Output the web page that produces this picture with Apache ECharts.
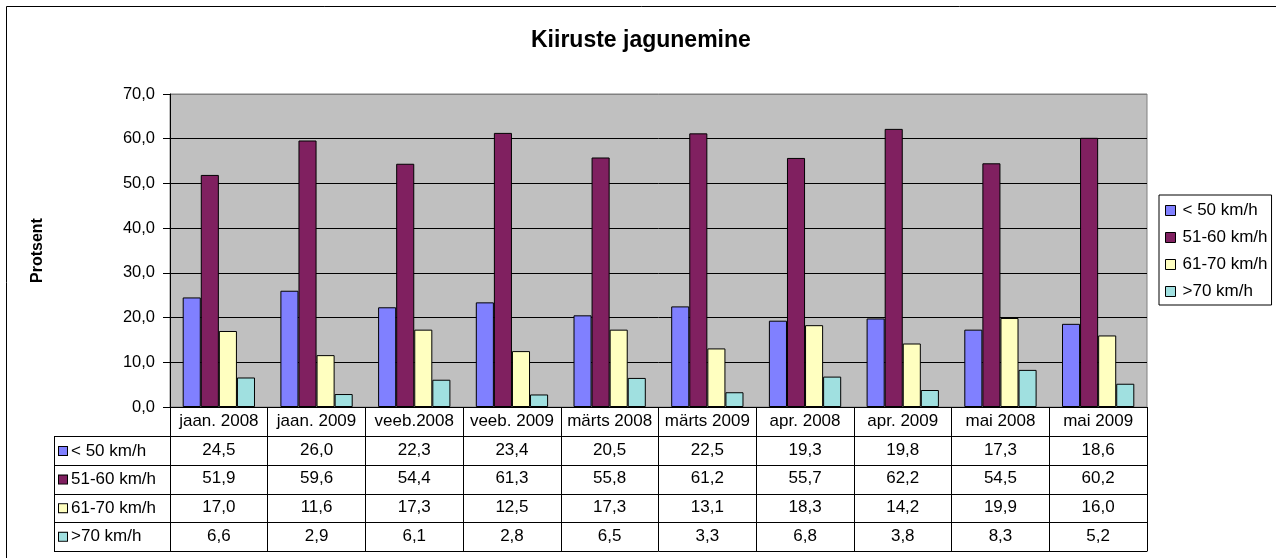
<!DOCTYPE html>
<html>
<head>
<meta charset="utf-8">
<script src="https://cdn.jsdelivr.net/npm/echarts@6/dist/echarts.min.js"></script>
<style>html,body{margin:0;padding:0;background:#fff}#c{width:1276px;height:558px}</style>
</head>
<body>
<div id="c"></div>
<script>
const categories = ['jaan. 2008','jaan. 2009','veeb.2008','veeb. 2009','märts 2008','märts 2009','apr. 2008','apr. 2009','mai 2008','mai 2009'];
const seriesNames = ['< 50 km/h','51-60 km/h','61-70 km/h','>70 km/h'];
const below50 = [24.5,26.0,22.3,23.4,20.5,22.5,19.3,19.8,17.3,18.6];
const from51to60 = [51.9,59.6,54.4,61.3,55.8,61.2,55.7,62.2,54.5,60.2];
const from61to70 = [17.0,11.6,17.3,12.5,17.3,13.1,18.3,14.2,19.9,16.0];
const above70 = [6.6,2.9,6.1,2.8,6.5,3.3,6.8,3.8,8.3,5.2];
const yTicks = [0,10,20,30,40,50,60,70];

const seriesData = [below50, from51to60, from61to70, above70];
const colors = ['#8080FF','#802060','#FFFFC0','#A0E0E0'];
const FONT = "'Liberation Sans', Arial, sans-serif";
const FS = 17;
const fmt = v => v.toFixed(1).replace('.', ',');

const plotLeft = 170, plotTop = 94, plotW = 977, plotH = 313;
const headerH = 29.7, rowH = 28.6;

const xAxes = [{
  type: 'category', gridIndex: 0, data: categories, position: 'bottom',
  axisLine: {show: true, lineStyle: {color: '#000', width: 1}},
  axisTick: {show: true, interval: 0, length: headerH + 4 * rowH, lineStyle: {color: '#000'}},
  axisLabel: {interval: 0, margin: 6, color: '#000', fontFamily: FONT, fontSize: FS}
}];
for (let i = 0; i < 4; i++) {
  xAxes.push({
    type: 'category', gridIndex: 0, data: categories, position: 'bottom',
    offset: headerH + i * rowH,
    axisLine: {show: true, lineStyle: {color: '#000', width: 1}},
    axisTick: {show: false},
    axisLabel: {interval: 0, margin: 5, color: '#000', fontFamily: FONT, fontSize: FS,
      formatter: (v, idx) => fmt(seriesData[i][idx])}
  });
}
xAxes.push({
  type: 'category', gridIndex: 0, data: categories, position: 'bottom',
  offset: headerH + 4 * rowH,
  axisLine: {show: true, lineStyle: {color: '#000', width: 1}},
  axisTick: {show: false}, axisLabel: {show: false}
});
xAxes.push({type: 'value', gridIndex: 1, min: 0, max: 1, show: false});

const rich = {};
colors.forEach((c, i) => {
  rich['s' + i] = {width: 8, height: 8, backgroundColor: c, borderColor: '#000', borderWidth: 1};
});
rich.t = {fontFamily: FONT, fontSize: FS, color: '#000', padding: [0, 0, 0, 4]};

const option = {
  animation: false,
  backgroundColor: '#fff',
  title: {
    text: 'Kiiruste jagunemine', left: 531, top: 29,
    padding: 0,
    textStyle: {fontFamily: FONT, fontSize: 23, fontWeight: 'bold', color: '#000'}
  },
  legend: {
    orient: 'vertical', left: 1159, top: 195,
    itemWidth: 10, itemHeight: 10, itemGap: 10,
    padding: [7, 4, 5, 6],
    borderColor: '#000', borderWidth: 1, backgroundColor: '#fff',
    icon: 'rect',
    itemStyle: {borderColor: '#000', borderWidth: 1},
    textStyle: {fontFamily: FONT, fontSize: FS, color: '#000', padding: [0, 0, 0, 2]},
    data: seriesNames
  },
  grid: [
    {left: plotLeft, top: plotTop, width: plotW, height: plotH, show: true,
     backgroundColor: '#C0C0C0', borderColor: '#808080', borderWidth: 1},
    {left: 54, top: plotTop + plotH + headerH, width: plotLeft - 54, height: 4 * rowH}
  ],
  xAxis: xAxes,
  yAxis: [
    {type: 'value', gridIndex: 0, min: 0, max: 70, interval: 10,
     name: 'Protsent', nameLocation: 'middle', nameGap: 124, nameRotate: 90,
     nameTextStyle: {fontFamily: FONT, fontSize: 16, fontWeight: 'bold', color: '#000'},
     axisLine: {show: true, lineStyle: {color: '#000'}},
     axisTick: {show: true, length: 7, lineStyle: {color: '#000'}},
     axisLabel: {margin: 15, color: '#000', fontFamily: FONT, fontSize: 16.5, formatter: v => fmt(v)},
     splitLine: {show: true, lineStyle: {color: yTicks.map((t, i) => i === yTicks.length - 1 ? '#808080' : '#000'), width: 1}}
    },
    {type: 'category', gridIndex: 1, data: seriesNames, inverse: true,
     axisLine: {show: true, lineStyle: {color: '#000'}},
     axisTick: {show: false},
     splitLine: {show: true, lineStyle: {color: '#000', width: 1}},
     axisLabel: {inside: true, margin: 5, interval: 0,
       formatter: (v, idx) => '{s' + idx + '|}{t|' + v + '}', rich: rich}
    }
  ],
  series: seriesNames.map((n, i) => ({
    name: n, type: 'bar', xAxisIndex: 0, yAxisIndex: 0,
    data: seriesData[i],
    barGap: '0%', barCategoryGap: '26%',
    itemStyle: {color: colors[i], borderColor: '#000', borderWidth: 1}
  })),
  graphic: [{
    type: 'rect', silent: true, z: -1,
    shape: {x: 6.5, y: 6.5, width: 1300, height: 600},
    style: {fill: 'none', stroke: '#000', lineWidth: 1}
  }]
};

const chart = echarts.init(document.getElementById('c'), null, {renderer: 'canvas'});
chart.setOption(option);
</script>
</body>
</html>
